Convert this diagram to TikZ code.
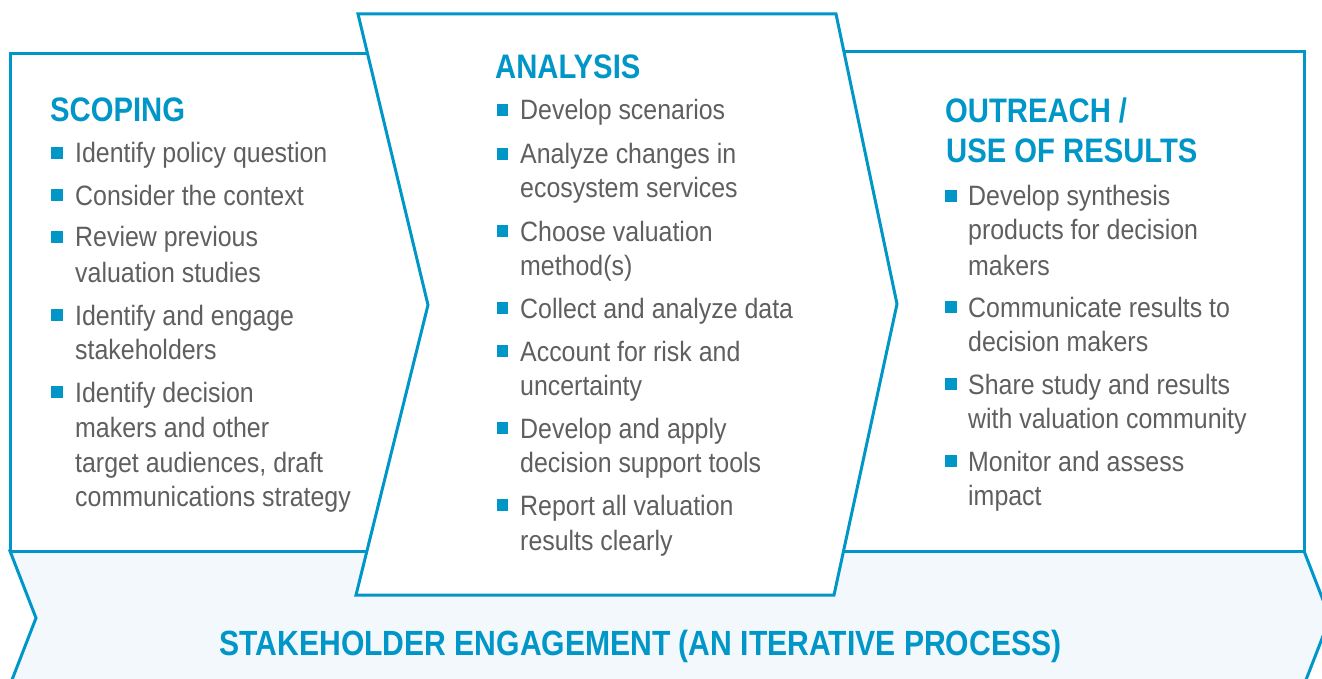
\documentclass[tikz,border=0pt]{standalone}
\usepackage{fontspec}
\newfontfamily\bodyf{Liberation Sans}[FakeStretch=0.89]
\newfontfamily\headf{Liberation Sans}[FakeStretch=0.86]
\definecolor{mainblue}{RGB}{0,150,200}
\definecolor{txtgray}{RGB}{95,95,95}
\definecolor{bandfill}{RGB}{243,248,252}
\tikzset{
  txt/.style={anchor=base west, inner sep=0pt, text=txtgray, font=\bodyf\fontsize{28}{34}\selectfont},
  head/.style={anchor=base west, inner sep=0pt, text=mainblue, font=\headf\bfseries\fontsize{34}{40}\selectfont},
  bul/.style={fill=mainblue, minimum size=11.5pt, inner sep=0pt, anchor=center},
  frame/.style={draw=mainblue, line width=3pt, line join=miter},
}
\begin{document}
\begin{tikzpicture}[x=1pt,y=-1pt]
\useasboundingbox (0,0) rectangle (1322,679);
\clip (0,0) rectangle (1322,679);
% band
\draw[frame, fill=bandfill] (10,551) -- (1304,551) -- (1330,618) -- (1304,685) -- (10,685) -- (36,618) -- cycle;
% left box
\fill[white] (10,54) rectangle (370,551);
\draw[frame] (370,54) -- (10,54) -- (10,551) -- (370,551);
% right box
\fill[white] (840,52) rectangle (1304,551);
\draw[frame] (840,52) -- (1304,52) -- (1304,551) -- (840,551);
% analysis
\draw[frame, fill=white] (358,14) -- (836,14) -- (897,304) -- (834,595) -- (356,595) -- (428,305) -- cycle;

% SCOPING
\node[head] (hS) at (50,122) {SCOPING};
\node[bul] (bS1) at (57,153) {};
\node[txt] (tS1) at (75,163) {Identify policy question};
\node[bul] (bS2) at (57,195) {};
\node[txt] (tS2) at (75,205) {Consider the context};
\node[bul] (bS3) at (57,237) {};
\node[txt] (tS3a) at (75,247) {Review previous};
\node[txt] (tS3b) at (75,282) {valuation studies};
\node[bul] (bS4) at (57,315) {};
\node[txt] (tS4a) at (75,325) {Identify and engage};
\node[txt] (tS4b) at (75,359) {stakeholders};
\node[bul] (bS5) at (57,392) {};
\node[txt] (tS5a) at (75,402) {Identify decision};
\node[txt] (tS5b) at (75,437) {makers and other};
\node[txt] (tS5c) at (75,472) {target audiences, draft};
\node[txt] (tS5d) at (75,506) {communications strategy};

% ANALYSIS
\node[head] (hA) at (495,79) {ANALYSIS};
\node[bul] (bA1) at (502.5,110) {};
\node[txt] (tA1) at (520,120) {Develop scenarios};
\node[bul] (bA2) at (502.5,154) {};
\node[txt] (tA2a) at (520,164) {Analyze changes in};
\node[txt] (tA2b) at (520,198) {ecosystem services};
\node[bul] (bA3) at (502.5,231) {};
\node[txt] (tA3a) at (520,241) {Choose valuation};
\node[txt] (tA3b) at (520,275) {method(s)};
\node[bul] (bA4) at (502.5,308) {};
\node[txt] (tA4) at (520,318) {Collect and analyze data};
\node[bul] (bA5) at (502.5,351) {};
\node[txt] (tA5a) at (520,361) {Account for risk and};
\node[txt] (tA5b) at (520,395) {uncertainty};
\node[bul] (bA6) at (502.5,428) {};
\node[txt] (tA6a) at (520,438) {Develop and apply};
\node[txt] (tA6b) at (520,472) {decision support tools};
\node[bul] (bA7) at (502.5,505) {};
\node[txt] (tA7a) at (520,515) {Report all valuation};
\node[txt] (tA7b) at (520,550) {results clearly};

% OUTREACH
\node[head] (hO1) at (945,123) {OUTREACH /};
\node[head] (hO2) at (946,163) {USE OF RESULTS};
\node[bul] (bO1) at (951,196) {};
\node[txt] (tO1a) at (968,206) {Develop synthesis};
\node[txt] (tO1b) at (968,240) {products for decision};
\node[txt] (tO1c) at (968,275) {makers};
\node[bul] (bO2) at (951,307) {};
\node[txt] (tO2a) at (968,317) {Communicate results to};
\node[txt] (tO2b) at (968,351) {decision makers};
\node[bul] (bO3) at (951,384) {};
\node[txt] (tO3a) at (968,394) {Share study and results};
\node[txt] (tO3b) at (968,428) {with valuation community};
\node[bul] (bO4) at (951,461) {};
\node[txt] (tO4a) at (968,471) {Monitor and assess};
\node[txt] (tO4b) at (968,505) {impact};

% band label
\node[anchor=base, inner sep=0pt, text=mainblue, font=\headf\bfseries\fontsize{35}{40}\selectfont] (band) at (640.5,655) {STAKEHOLDER ENGAGEMENT (AN ITERATIVE PROCESS)};
\end{tikzpicture}
\end{document}
